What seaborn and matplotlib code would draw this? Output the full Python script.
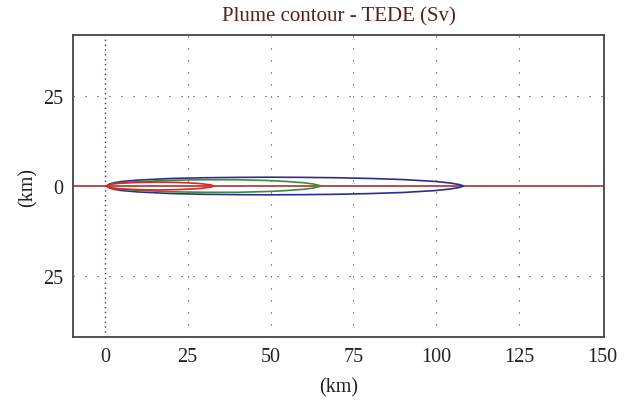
import numpy as np
import pandas as pd
import matplotlib
matplotlib.use("Agg")
import matplotlib.pyplot as plt
import seaborn as sns

# Upper-half outlines (km); lower half mirrors them
blue_x = [0.5, 1.5, 3, 5, 10, 20, 30, 40, 50, 60, 70, 80, 90, 100, 104, 107, 108.3]
blue_y = [0.0, 0.6, 0.95, 1.25, 1.65, 2.1, 2.3, 2.4, 2.45, 2.4, 2.3, 2.1, 1.8, 1.25, 0.85, 0.4, 0.0]
green_x = [0.5, 1.5, 3, 5, 10, 20, 30, 40, 50, 55, 60, 63, 65.4]
green_y = [0.0, 0.45, 0.7, 0.9, 1.2, 1.6, 1.75, 1.75, 1.5, 1.25, 0.9, 0.55, 0.0]
red_x = [0.5, 1.2, 2.5, 5, 10, 16, 22, 27, 30, 32, 33.0]
red_y = [0.0, 0.4, 0.6, 0.8, 1.0, 1.1, 1.0, 0.8, 0.55, 0.3, 0.0]

x_ticks = [0, 25, 50, 75, 100, 125, 150]
y_ticks = [-25, 0, 25]
y_tick_labels = ["25", "0", "25"]

sns.set_style("white")
plt.rcParams["font.family"] = ["Liberation Serif", "DejaVu Serif"]

def closed(xs, ys, name):
    xx = list(xs) + list(xs[::-1])
    yy = list(ys) + [-v for v in ys[::-1]]
    return pd.DataFrame({"x": xx, "y": yy, "contour": name, "order": range(len(xx))})

df = pd.concat([closed(blue_x, blue_y, "blue"),
                closed(green_x, green_y, "green"),
                closed(red_x, red_y, "red")], ignore_index=True)

fig = plt.figure(figsize=(6.28, 4.02), dpi=100)
ax = fig.add_axes([0.1162, 0.1592, 0.8456, 0.7512])

# grid
for xv in x_ticks[1:-1]:
    ax.axvline(xv, color="#333333", lw=0.8, ls=(0, (1, 9.8)), zorder=0)
for yv in [-25, 25]:
    ax.axhline(yv, color="#333333", lw=0.8, ls=(0, (1, 9.8)), zorder=0)
ax.axvline(0, color="#8b1a2a", lw=1.0, ls=(0, (1, 2.5)), zorder=1)
ax.axhline(0, color="#a03535", lw=1.2, zorder=2)

palette = {"blue": "#2e2e8c", "green": "#3d8b3d", "red": "#e52222"}
sns.lineplot(data=df, x="x", y="y", hue="contour", units="contour", estimator=None,
             sort=False, palette=palette, lw=1.2, legend=False, ax=ax, zorder=3)

ax.set_xlim(-9.6, 150.6)
ax.set_ylim(-42, 42)
ax.set_xticks(x_ticks)
ax.set_yticks(y_ticks)
ax.set_yticklabels(y_tick_labels)
ax.tick_params(axis="x", labelsize=14.5, length=0, pad=7, colors="#222222")
ax.tick_params(axis="y", labelsize=14.5, length=0, pad=7, colors="#222222")
ax.set_xlabel("(km)", fontsize=14.5, color="#222222", labelpad=8)
ax.set_ylabel("(km)", fontsize=14.5, color="#222222", labelpad=4)
ax.set_title("Plume contour - TEDE (Sv)", fontsize=15, color="#5a1e1e", pad=10.5)
for s in ax.spines.values():
    s.set_color("#444444")
    s.set_linewidth(1.3)

fig.savefig("out.png", dpi=100)
